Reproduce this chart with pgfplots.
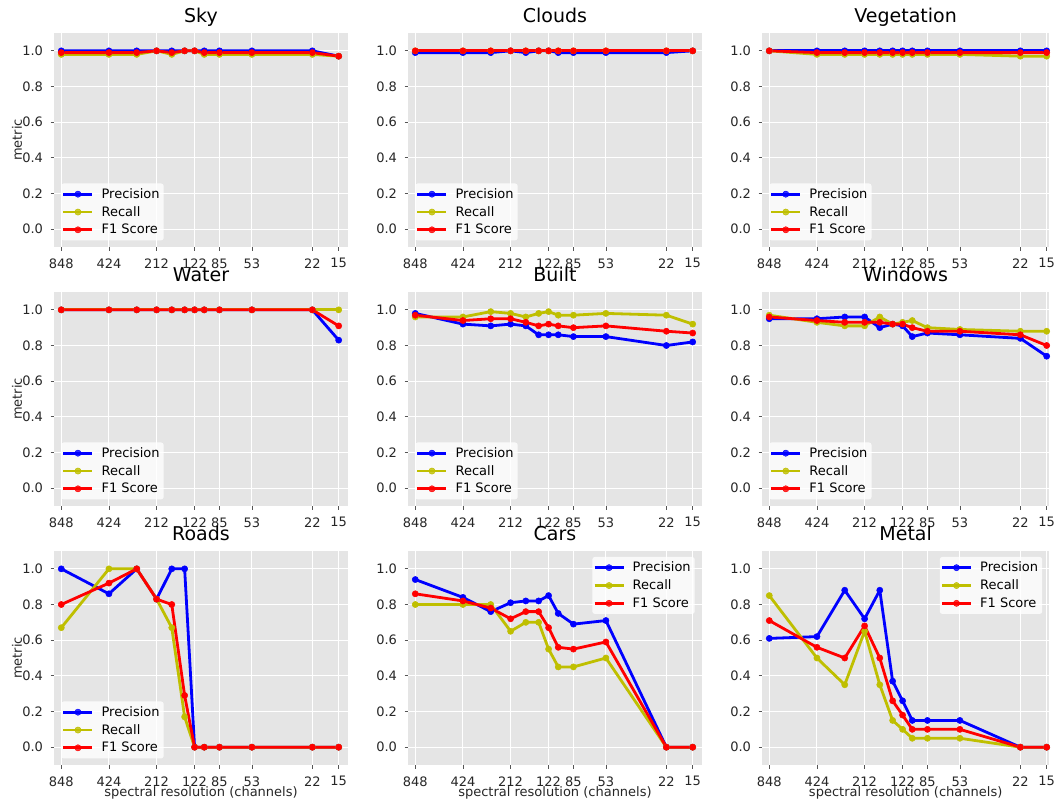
\documentclass[border=0pt]{standalone}
\usepackage{fontspec}
\setmainfont{DejaVu Sans}
\usepackage{pgfplots}
\usepackage{pgfplotstable}
\pgfplotsset{compat=1.18}
\definecolor{bggray}{HTML}{E5E5E5}
\definecolor{tickgray}{HTML}{555555}
\definecolor{cP}{rgb}{0,0,1}
\definecolor{cR}{rgb}{0.75,0.75,0}
\definecolor{cF}{rgb}{1,0,0}

\pgfplotstableread{
x P R F
848 1.00 0.98 0.99
424 1.00 0.98 0.99
283 1.00 0.98 0.99
212 1.00 1.00 1.00
170 1.00 0.98 0.99
141 1.00 1.00 1.00
122 1.00 1.00 1.00
106 1.00 0.98 0.99
85 1.00 0.98 0.99
53 1.00 0.98 0.99
22 1.00 0.98 0.99
15 0.97 0.97 0.97
}\tsky
\pgfplotstableread{
x P R F
848 0.99 1.00 1.00
424 0.99 1.00 1.00
283 0.99 1.00 1.00
212 1.00 1.00 1.00
170 0.99 1.00 1.00
141 1.00 1.00 1.00
122 1.00 1.00 1.00
106 0.99 1.00 1.00
85 0.99 1.00 1.00
53 0.99 1.00 1.00
22 0.99 1.00 1.00
15 1.00 1.00 1.00
}\tclouds
\pgfplotstableread{
x P R F
848 1.00 1.00 1.00
424 1.00 0.98 0.99
283 1.00 0.98 0.99
212 1.00 0.98 0.99
170 1.00 0.98 0.99
141 1.00 0.98 0.99
122 1.00 0.98 0.99
106 1.00 0.98 0.99
85 1.00 0.98 0.99
53 1.00 0.98 0.99
22 1.00 0.97 0.99
15 1.00 0.97 0.99
}\tveg
\pgfplotstableread{
x P R F
848 1.00 1.00 1.00
424 1.00 1.00 1.00
283 1.00 1.00 1.00
212 1.00 1.00 1.00
170 1.00 1.00 1.00
141 1.00 1.00 1.00
122 1.00 1.00 1.00
106 1.00 1.00 1.00
85 1.00 1.00 1.00
53 1.00 1.00 1.00
22 1.00 1.00 1.00
15 0.83 1.00 0.91
}\twater
\pgfplotstableread{
x P R F
848 0.98 0.96 0.97
424 0.92 0.96 0.94
283 0.91 0.99 0.95
212 0.92 0.98 0.95
170 0.91 0.96 0.93
141 0.86 0.98 0.91
122 0.86 0.99 0.92
106 0.86 0.97 0.91
85 0.85 0.97 0.90
53 0.85 0.98 0.91
22 0.80 0.97 0.88
15 0.82 0.92 0.87
}\tbuilt
\pgfplotstableread{
x P R F
848 0.95 0.97 0.96
424 0.95 0.93 0.94
283 0.96 0.91 0.93
212 0.96 0.91 0.93
170 0.90 0.96 0.93
141 0.92 0.92 0.92
122 0.91 0.93 0.92
106 0.85 0.94 0.90
85 0.87 0.90 0.88
53 0.86 0.89 0.88
22 0.84 0.88 0.86
15 0.74 0.88 0.80
}\twin
\pgfplotstableread{
x P R F
848 1.00 0.67 0.80
424 0.86 1.00 0.92
283 1.00 1.00 1.00
212 0.83 0.83 0.83
170 1.00 0.67 0.80
141 1.00 0.17 0.29
122 0 0 0
106 0 0 0
85 0 0 0
53 0 0 0
22 0 0 0
15 0 0 0
}\troads
\pgfplotstableread{
x P R F
848 0.94 0.80 0.86
424 0.84 0.80 0.82
283 0.76 0.80 0.78
212 0.81 0.65 0.72
170 0.82 0.70 0.76
141 0.82 0.70 0.76
122 0.85 0.55 0.67
106 0.75 0.45 0.56
85 0.69 0.45 0.55
53 0.71 0.50 0.59
22 0 0 0
15 0 0 0
}\tcars
\pgfplotstableread{
x P R F
848 0.61 0.85 0.71
424 0.62 0.50 0.56
283 0.88 0.35 0.50
212 0.72 0.65 0.68
170 0.88 0.35 0.50
141 0.37 0.15 0.26
122 0.26 0.10 0.18
106 0.15 0.05 0.10
85 0.15 0.05 0.10
53 0.15 0.05 0.10
22 0 0 0
15 0 0 0
}\tmetal

\pgfplotsset{
    scale only axis, height=214pt,
    x dir=reverse,
    xmax=942.8, xmin=13.1,
    ymin=-0.1, ymax=1.1,
    xtick={848,424,212,122,85,53,22,15},
    xticklabels={848,424,212,122,85,53,22,15},
    minor xtick={},
    ytick={0,0.2,0.4,0.6,0.8,1.0},
    yticklabels={0.0,0.2,0.4,0.6,0.8,1.0},
    axis background/.style={fill=bggray},
    axis line style={draw=none},
    grid=major,
    major grid style={white, line width=1.1pt},
    tick align=outside, tick pos=left,
    major tick length=3.5pt,
    tick style={tickgray, line width=0.8pt},
    tick label style={font=\fontsize{13}{15}\selectfont, text=black!85},
    xticklabel style={anchor=north, inner sep=0pt, yshift=-7.7pt},
    yticklabel style={anchor=east, inner sep=0pt, xshift=-7.3pt},
    title style={at={(axis description cs:0.5,1.0206)}, anchor=base, font=\fontsize{19}{22}\selectfont, inner sep=0pt},
    label style={font=\fontsize{13}{15}\selectfont, text=black!85, inner sep=0pt},
    xlabel style={at={(axis description cs:0.5,-0.148)}, anchor=base},
    ylabel style={at={(axis description cs:-0.109,0.5)}, anchor=base},
    legend style={font=\fontsize{13}{15}\selectfont, fill=white, fill opacity=0.8, text opacity=1, draw=none,
      rounded corners=2.5pt, inner xsep=0.8pt, inner ysep=1.75pt, nodes={inner sep=3.25pt}, column sep=4.5pt,
      at={(0.024,0.03)}, anchor=south west},
    legend cell align=left,
    legend image code/.code={\draw[mark repeat=2, mark phase=2, #1] plot coordinates {(0pt,0pt) (14.5pt,0pt) (29pt,0pt)};},
    every axis plot/.append style={line width=2.8pt, line join=round},
    ur/.style={legend style={at={(0.976,0.973)}, anchor=north east}},
    pP/.style={color=cP, mark=*, mark size=3.1pt, mark options={fill=cP, draw=cP, line width=0.5pt}},
    pR/.style={color=cR, mark=*, mark size=3.1pt, mark options={fill=cR, draw=cR, line width=0.5pt}},
    pF/.style={color=cF, mark=*, mark size=3.1pt, mark options={fill=cF, draw=cF, line width=0.5pt}},
}

\newcommand{\threeplots}[1]{%
  \addplot[pP] table[x=x,y=P] {#1};
  \addplot[pR] table[x=x,y=R] {#1};
  \addplot[pF] table[x=x,y=F] {#1};
  \legend{Precision,Recall,F1 Score}
}

\begin{document}
\begin{tikzpicture}
\useasboundingbox (0pt,0pt) rectangle (1056pt,-803pt);
% row 1
\begin{semilogxaxis}[width=294pt, at={(54pt,-247pt)}, anchor=south west, title={Sky}, ylabel={metric}]
\threeplots{\tsky}
\end{semilogxaxis}
\begin{semilogxaxis}[width=294pt, at={(408pt,-247pt)}, anchor=south west, title={Clouds}]
\threeplots{\tclouds}
\end{semilogxaxis}
\begin{semilogxaxis}[width=287.3pt, xmin=14.44, at={(762pt,-247pt)}, anchor=south west, title={Vegetation}]
\threeplots{\tveg}
\end{semilogxaxis}
% row 2
\begin{semilogxaxis}[width=294pt, at={(54pt,-506pt)}, anchor=south west, title={Water}, ylabel={metric}]
\threeplots{\twater}
\end{semilogxaxis}
\begin{semilogxaxis}[width=294pt, at={(408pt,-506pt)}, anchor=south west, title={Built}]
\threeplots{\tbuilt}
\end{semilogxaxis}
\begin{semilogxaxis}[width=287.3pt, xmin=14.44, at={(762pt,-506pt)}, anchor=south west, title={Windows}]
\threeplots{\twin}
\end{semilogxaxis}
% row 3
\begin{semilogxaxis}[width=294pt, at={(54pt,-765pt)}, anchor=south west, title={Roads}, ylabel={metric}, xlabel={spectral resolution (channels)}]
\threeplots{\troads}
\end{semilogxaxis}
\begin{semilogxaxis}[ur, width=294pt, at={(408pt,-765pt)}, anchor=south west, title={Cars}, xlabel={spectral resolution (channels)}]
\threeplots{\tcars}
\end{semilogxaxis}
\begin{semilogxaxis}[ur, width=287.3pt, xmin=14.44, at={(762pt,-765pt)}, anchor=south west, title={Metal}, xlabel={spectral resolution (channels)}]
\threeplots{\tmetal}
\end{semilogxaxis}
\end{tikzpicture}
\end{document}
